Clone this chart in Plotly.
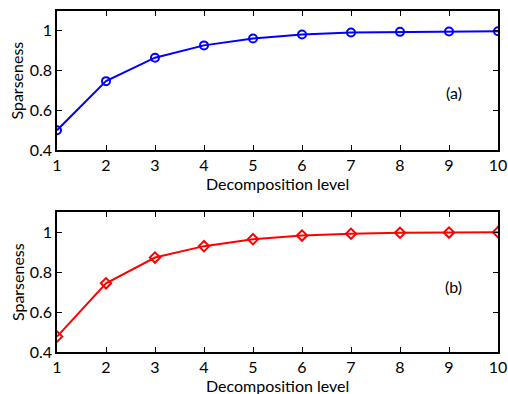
import plotly.graph_objects as go

levels = [1, 2, 3, 4, 5, 6, 7, 8, 9, 10]
sparse_a = [0.500, 0.747, 0.865, 0.927, 0.962, 0.982, 0.992, 0.995, 0.997, 0.998]
sparse_b = [0.477, 0.744, 0.873, 0.930, 0.965, 0.983, 0.992, 0.997, 0.998, 1.000]
y_ticks = [0.4, 0.6, 0.8, 1.0]
y_tick_text = ["0.4", "0.6", "0.8", "1"]

FONT = "Lato"
fig = go.Figure()
fig.add_trace(go.Scatter(x=levels, y=sparse_a, mode="lines+markers",
                         line=dict(color="#0000FF", width=2),
                         marker=dict(symbol="circle-open", size=8, color="#0000FF",
                                     line=dict(width=2, color="#0000FF")),
                         xaxis="x", yaxis="y", showlegend=False))
fig.add_trace(go.Scatter(x=levels, y=sparse_b, mode="lines+markers",
                         line=dict(color="#FF0000", width=2),
                         marker=dict(symbol="diamond-open", size=8, color="#FF0000",
                                     line=dict(width=2, color="#FF0000")),
                         xaxis="x2", yaxis="y2", showlegend=False))

axis_common = dict(showgrid=False, zeroline=False, showline=True, linecolor="black",
                   linewidth=1.5, mirror="ticks", ticks="inside", ticklen=5,
                   tickcolor="black", automargin=False,
                   tickfont=dict(family=FONT, size=16, color="black"))
xa = dict(range=[1, 10], tickvals=levels, **axis_common)
ya = dict(range=[0.4, 1.1], tickvals=y_ticks, ticktext=y_tick_text, **axis_common)

fig.update_layout(
    width=508, height=394,
    margin=dict(l=57, r=10, t=11, b=42),
    paper_bgcolor="white", plot_bgcolor="white",
    xaxis=dict(domain=[0, 1], anchor="y", **xa),
    yaxis=dict(domain=[0.592, 1.0], anchor="x", **ya),
    xaxis2=dict(domain=[0, 1], anchor="y2", **xa),
    yaxis2=dict(domain=[0.0, 0.41], anchor="x2", **ya),
)

afont = dict(family=FONT, size=16, color="black")
fig.add_annotation(text="(a)", x=9.1, y=0.69, xref="x", yref="y", showarrow=False, font=afont)
fig.add_annotation(text="(b)", x=9.1, y=0.73, xref="x2", yref="y2", showarrow=False, font=afont)
for yp in (0.592, 0.0):
    fig.add_annotation(text="Decomposition level", x=0.5, y=yp, xref="paper", yref="paper",
                       xanchor="center", yanchor="middle",
                       yshift=-33, showarrow=False, font=afont)
for yp in (0.796, 0.205):
    fig.add_annotation(text="Sparseness", x=0, y=yp, xref="paper", yref="paper",
                       xanchor="center", yanchor="middle",
                       xshift=-40, textangle=-90, showarrow=False, font=afont)

fig.write_html("out.html")
